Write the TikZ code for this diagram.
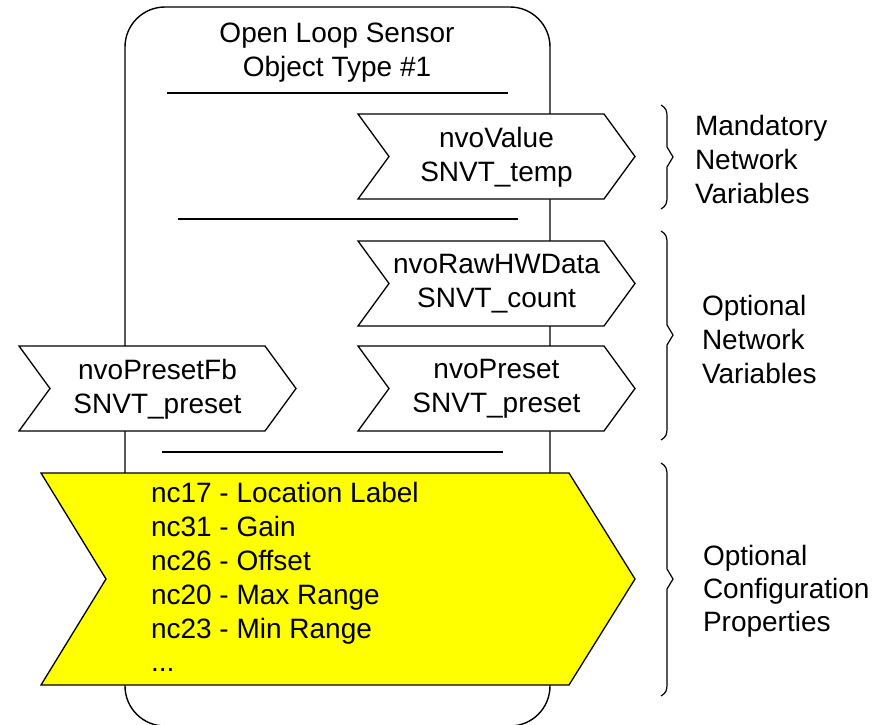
\documentclass[tikz,border=0pt]{standalone}
\usepackage{fontspec}
\setmainfont{Liberation Sans}
\definecolor{cpyellow}{RGB}{255,255,0}
% curly brace pointing right: x, top, middle, bottom
\newcommand\sidebrace[4]{%
  \draw[bracepath] (#1-6,#2) .. controls (#1-1,#2+3) and (#1,#2+6) .. (#1,#2+11)
    -- (#1,#3-10) -- (#1+6,#3) -- (#1,#3+10) -- (#1,#4-11)
    .. controls (#1,#4-6) and (#1-1,#4-3) .. (#1-6,#4);}
\begin{document}
\begin{tikzpicture}[x=1pt,y=-1pt,
  every node/.style={inner sep=0pt, outer sep=0pt},
  txt/.style={font=\fontsize{28}{34}\selectfont},
  frame/.style={draw=black, line width=1.4pt},
  sepline/.style={draw=black, line width=1.8pt},
  chevron/.style={draw=black, line width=1.3pt, fill=white, line join=miter},
  cpchevron/.style={chevron, fill=cpyellow},
  bracepath/.style={draw=black, line width=1.2pt},
]
\useasboundingbox (0,0) rectangle (887,725);

% functional block outline
\draw[frame, rounded corners=40pt] (125,7) rectangle (550,726);

% block title
\node[txt, align=center, anchor=north] (title) at (337,22.6)
  {Open Loop Sensor\\Object Type \#1};

% section separators
\coordinate (s1a) at (167,93);  \coordinate (s1b) at (508,93);
\coordinate (s2a) at (178,219); \coordinate (s2b) at (518,219);
\coordinate (s3a) at (162,452); \coordinate (s3b) at (503,452);
\draw[sepline] (s1a) -- (s1b);
\draw[sepline] (s2a) -- (s2b);
\draw[sepline] (s3a) -- (s3b);

% mandatory network variable
\path[chevron] (358,114) -- (604,114) -- (635,156.5) -- (604,199) -- (358,199) -- (389,156.5) -- cycle;
\node[txt, align=center, anchor=north] (nvoValue) at (496.5,127.7) {nvoValue\\SNVT\_temp};

% optional network variables
\path[chevron] (358,241) -- (604,241) -- (635,283.5) -- (604,326) -- (358,326) -- (389,283.5) -- cycle;
\node[txt, align=center, anchor=north] (nvoRaw) at (496.5,254.7) {nvoRawHWData\\SNVT\_count};

\path[chevron] (358,346) -- (604,346) -- (635,388.5) -- (604,431) -- (358,431) -- (389,388.5) -- cycle;
\node[txt, align=center, anchor=north] (nvoPreset) at (496.5,359.7) {nvoPreset\\SNVT\_preset};

\path[chevron] (19,346) -- (265,346) -- (296,388.5) -- (265,431) -- (19,431) -- (50,388.5) -- cycle;
\node[txt, align=center, anchor=north] (nvoPresetFb) at (157.5,359.7) {nvoPresetFb\\SNVT\_preset};

% optional configuration properties
\path[cpchevron] (41,473) -- (569,473) -- (635,579) -- (569,685) -- (41,685) -- (106,579) -- cycle;
\node[font=\fontsize{28}{33.8}\selectfont, align=left, anchor=north west] (cplist) at (151,482.6)
  {nc17 - Location Label\\nc31 - Gain\\nc26 - Offset\\nc20 - Max Range\\nc23 - Min Range\\...};

% grouping braces and their captions
\sidebrace{667}{105}{157}{209}
\sidebrace{667}{231}{335}{440}
\sidebrace{667}{463}{579}{696}

\node[txt, align=left, anchor=north west] (mandatory) at (695,115.6)
  {Mandatory\\Network\\Variables};
\node[txt, align=left, anchor=north west] (optnv) at (702,295.6)
  {Optional\\Network\\Variables};
\node[font=\fontsize{28}{33}\selectfont, align=left, anchor=north west] (optcp) at (703,545.6)
  {Optional\\Configuration\\Properties};
\end{tikzpicture}
\end{document}
